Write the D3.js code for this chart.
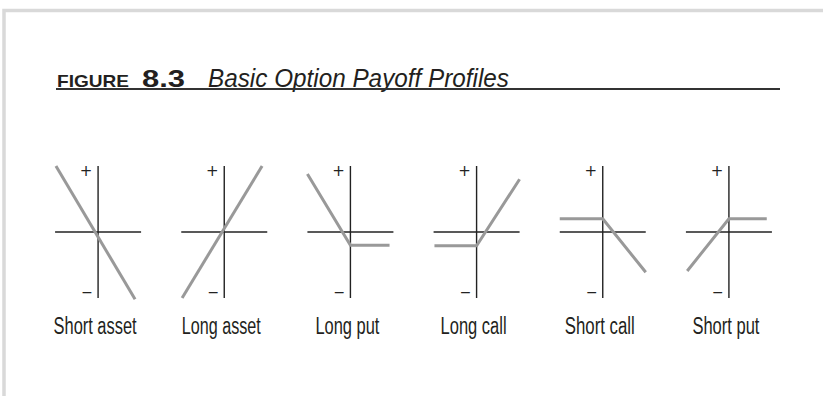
<!DOCTYPE html>
<meta charset="utf-8">
<title>Basic Option Payoff Profiles</title>
<script src="https://d3js.org/d3.v7.min.js"></script>
<style>
  body { margin: 0; background: #fff; }
  text { font-family: "Liberation Sans Narrow", "Liberation Sans", Arial, sans-serif; }
</style>
<div id="chart"></div>
<script>
  // panel names, in order left to right
  var panels = ["Short asset", "Long asset", "Long put", "Long call", "Short call", "Short put"];

  // payoff line points per panel (asset price on x, payoff on y, both -1..1)
  var payoffX = [
    [-0.98, 0.86],
    [-0.98, 0.88],
    [-1.0, 0, 0.91],
    [-0.98, 0, 1.0],
    [-1.0, 0, 1.0],
    [-0.97, 0, 0.88]
  ];
  var payoffY = [
    [1.0, -1.02],
    [-1.0, 1.0],
    [0.88, -0.2, -0.2],
    [-0.21, -0.21, 0.8],
    [0.2, 0.2, -0.61],
    [-0.59, 0.2, 0.2]
  ];

  var W = 823, H = 396;

  var svg = d3.select("#chart")
    .append("svg")
      .attr("width", W)
      .attr("height", H);

  // light grey frame (top and left only)
  svg.append("path")
    .attr("d", "M4,396 V10.5 H823")
    .attr("fill", "none")
    .attr("stroke", "#d9d9d9")
    .attr("stroke-width", 3.5);

  // title
  var title = svg.append("g");
  title.append("text")
    .attr("x", 57).attr("y", 87)
    .attr("textLength", 72).attr("lengthAdjust", "spacingAndGlyphs")
    .style("font-size", "17px").style("font-weight", "bold")
    .attr("fill", "#231f20")
    .text("FIGURE");
  title.append("text")
    .attr("x", 142).attr("y", 87)
    .attr("textLength", 43).attr("lengthAdjust", "spacingAndGlyphs")
    .style("font-size", "24px").style("font-weight", "bold")
    .attr("fill", "#231f20")
    .text("8.3");
  title.append("text")
    .attr("x", 208).attr("y", 87)
    .attr("textLength", 301).attr("lengthAdjust", "spacingAndGlyphs")
    .style("font-size", "26px").style("font-style", "italic")
    .attr("fill", "#231f20")
    .text("Basic Option Payoff Profiles");
  title.append("line")
    .attr("x1", 56).attr("x2", 780)
    .attr("y1", 89).attr("y2", 89)
    .attr("stroke", "#333").attr("stroke-width", 2);

  // one band per panel
  var band = d3.scaleBand().domain(panels).range([35, 792]);
  var px = d3.scaleLinear().domain([-1, 1]).range([-43, 43]);
  var py = d3.scaleLinear().domain([-1, 1]).range([298, 166]);

  var labelWidths = [83, 79, 64, 66, 70, 67];

  panels.forEach(function(name, i) {
    var cx = band(name) + band.bandwidth() / 2;
    var g = svg.append("g").attr("transform", "translate(" + cx + ",0)");

    // axes
    g.append("line")
      .attr("x1", px(-1)).attr("x2", px(1))
      .attr("y1", py(0)).attr("y2", py(0))
      .attr("stroke", "#222").attr("stroke-width", 1.4);
    g.append("line")
      .attr("x1", px(0)).attr("x2", px(0))
      .attr("y1", py(1)).attr("y2", py(-1))
      .attr("stroke", "#222").attr("stroke-width", 1.4);

    // + and - marks
    g.append("text")
      .attr("x", px(0) - 12).attr("y", py(0.94) + 6)
      .attr("text-anchor", "middle")
      .style("font-family", "DejaVu Sans")
      .style("font-size", "15px").attr("fill", "#222")
      .text("+");
    g.append("text")
      .attr("x", px(0) - 11).attr("y", py(-0.91) + 5)
      .attr("text-anchor", "middle")
      .style("font-family", "DejaVu Sans")
      .style("font-size", "14px").attr("fill", "#222")
      .text("\u2212");

    // payoff line
    var pts = payoffX[i].map(function(x, k) { return [x, payoffY[i][k]]; });
    g.append("path")
      .datum(pts)
      .attr("d", d3.line().x(function(d) { return px(d[0]); }).y(function(d) { return py(d[1]); }))
      .attr("fill", "none")
      .attr("stroke", "#999")
      .attr("stroke-width", 3);

    // label
    g.append("text")
      .attr("x", -3).attr("y", 334)
      .attr("text-anchor", "middle")
      .attr("textLength", labelWidths[i]).attr("lengthAdjust", "spacingAndGlyphs")
      .style("font-size", "23px").attr("fill", "#231f20")
      .text(name);
  });
</script>
